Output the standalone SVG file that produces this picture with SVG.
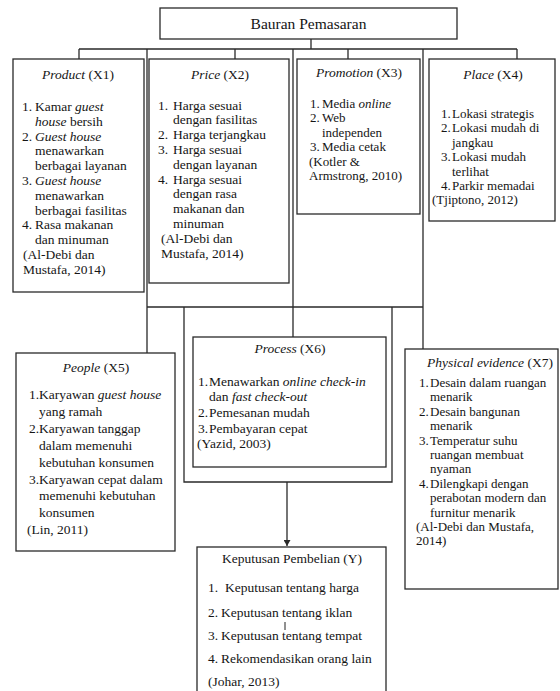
<svg xmlns="http://www.w3.org/2000/svg" width="560" height="691" viewBox="0 0 560 691">
<defs>
<style>
.box{fill:#fff;stroke:#2a2a2a;stroke-width:1.3}
.ln{fill:none;stroke:#2a2a2a;stroke-width:1.3}
text{font-family:"Liberation Serif","Times New Roman",serif;font-size:13.5px;fill:#151515}
.s{font-size:13px}
.t{text-anchor:middle}
.i{font-style:italic}
</style>
<marker id="arr" markerWidth="6" markerHeight="7" refX="6" refY="3.5" orient="auto" markerUnits="userSpaceOnUse">
<path d="M0,0 L6,3.5 L0,7 Z" fill="#2a2a2a"/>
</marker>
</defs>
<rect width="560" height="691" fill="#fff"/>

<g id="connectors">
<path class="ln" d="M311 39 V49 M79 49 H517 M79 49 V59 M235 49 V59 M348 49 V59 M517 49 V59"/>
<path class="ln" d="M147 49 V353 M293 49 V337 M423 49 V349 M147 307 H423"/>
<path class="ln" d="M184 307 V482 H392 V307"/>
<path class="ln" d="M287 482 V546" marker-end="url(#arr)"/>
</g>

<g id="bauran">
<rect class="box" x="160" y="8" width="297" height="31"/>
<text class="t" x="308.5" y="29" style="font-size:15.5px">Bauran Pemasaran</text>
</g>

<g id="product">
<rect class="box" x="13" y="59" width="131" height="233"/>
<text class="t" x="78" y="79"><tspan class="i">Product</tspan> (X1)</text>
<text y="111"><tspan x="22">1.</tspan><tspan x="35">Kamar </tspan><tspan class="i">guest</tspan></text>
<text x="35" y="125.8"><tspan class="i">house</tspan> bersih</text>
<text y="140.6"><tspan x="22">2.</tspan><tspan x="35" class="i">Guest house</tspan></text>
<text x="35" y="155.4">menawarkan</text>
<text x="35" y="170.2">berbagai layanan</text>
<text y="185"><tspan x="22">3.</tspan><tspan x="35" class="i">Guest house</tspan></text>
<text x="35" y="199.8">menawarkan</text>
<text x="35" y="214.6">berbagai fasilitas</text>
<text y="229.4"><tspan x="22">4.</tspan><tspan x="35">Rasa makanan</tspan></text>
<text x="35" y="244.2">dan minuman</text>
<text x="23" y="259">(Al-Debi dan</text>
<text x="23" y="273.8">Mustafa, 2014)</text>
</g>

<g id="price">
<rect class="box" x="149" y="59" width="140" height="224"/>
<text class="t" x="220" y="79"><tspan class="i">Price</tspan> (X2)</text>
<text y="109.5"><tspan x="158">1.</tspan><tspan x="173">Harga sesuai</tspan></text>
<text x="173" y="124.3">dengan fasilitas</text>
<text y="139.1"><tspan x="158">2.</tspan><tspan x="173">Harga terjangkau</tspan></text>
<text y="153.9"><tspan x="158">3.</tspan><tspan x="173">Harga sesuai</tspan></text>
<text x="173" y="168.7">dengan layanan</text>
<text y="183.5"><tspan x="158">4.</tspan><tspan x="173">Harga sesuai</tspan></text>
<text x="173" y="198.3">dengan rasa</text>
<text x="173" y="213.1">makanan dan</text>
<text x="173" y="227.9">minuman</text>
<text x="161" y="242.7">(Al-Debi dan</text>
<text x="161" y="257.5">Mustafa, 2014)</text>
</g>

<g id="promotion">
<rect class="box" x="297" y="59" width="123" height="155"/>
<text class="t" x="359" y="77"><tspan class="i">Promotion</tspan> (X3)</text>
<text class="s" y="108"><tspan x="310">1.</tspan><tspan x="322">Media </tspan><tspan class="i">online</tspan></text>
<text class="s" y="122.4"><tspan x="310">2.</tspan><tspan x="322">Web</tspan></text>
<text class="s" x="322" y="136.8">independen</text>
<text class="s" y="151.2"><tspan x="310">3.</tspan><tspan x="322">Media cetak</tspan></text>
<text class="s" x="309" y="165.6">(Kotler &amp;</text>
<text class="s" x="309" y="180">Armstrong, 2010)</text>
</g>

<g id="place">
<rect class="box" x="429" y="59" width="126" height="162"/>
<text class="t" x="493" y="79"><tspan class="i">Place</tspan> (X4)</text>
<text class="s" y="118"><tspan x="441">1.</tspan><tspan x="452">Lokasi strategis</tspan></text>
<text class="s" y="132.4"><tspan x="441">2.</tspan><tspan x="452">Lokasi mudah di</tspan></text>
<text class="s" x="452" y="146.8">jangkau</text>
<text class="s" y="161.2"><tspan x="441">3.</tspan><tspan x="452">Lokasi mudah</tspan></text>
<text class="s" x="452" y="175.6">terlihat</text>
<text class="s" y="190"><tspan x="441">4.</tspan><tspan x="452">Parkir memadai</tspan></text>
<text class="s" x="432" y="204.4">(Tjiptono, 2012)</text>
</g>

<g id="people">
<rect class="box" x="16" y="353" width="159" height="198"/>
<text class="t" x="96" y="372"><tspan class="i">People</tspan> (X5)</text>
<text y="399"><tspan x="29">1.</tspan><tspan x="39">Karyawan </tspan><tspan class="i">guest house</tspan></text>
<text x="39" y="415.9">yang ramah</text>
<text y="432.8"><tspan x="29">2.</tspan><tspan x="39">Karyawan tanggap</tspan></text>
<text x="39" y="449.7">dalam memenuhi</text>
<text x="39" y="466.6">kebutuhan konsumen</text>
<text y="483.5"><tspan x="29">3.</tspan><tspan x="39">Karyawan cepat dalam</tspan></text>
<text x="39" y="500.4">memenuhi kebutuhan</text>
<text x="39" y="517.3">konsumen</text>
<text x="27" y="534.2">(Lin, 2011)</text>
</g>

<g id="process">
<rect class="box" x="193" y="337" width="193" height="130"/>
<text class="t" x="290" y="353"><tspan class="i">Process</tspan> (X6)</text>
<text y="386"><tspan x="198">1.</tspan><tspan x="209">Menawarkan </tspan><tspan class="i">online check-in</tspan></text>
<text x="209" y="401">dan <tspan class="i">fast check-out</tspan></text>
<text y="417"><tspan x="198">2.</tspan><tspan x="209">Pemesanan mudah</tspan></text>
<text y="432.5"><tspan x="198">3.</tspan><tspan x="209">Pembayaran cepat</tspan></text>
<text x="197" y="447.5">(Yazid, 2003)</text>
</g>

<g id="physical-evidence">
<rect class="box" x="405" y="349" width="153" height="240"/>
<text class="t" x="490" y="367"><tspan class="i">Physical evidence</tspan> (X7)</text>
<text class="s" y="387"><tspan x="419">1.</tspan><tspan x="430">Desain dalam ruangan</tspan></text>
<text class="s" x="430" y="401.4">menarik</text>
<text class="s" y="415.8"><tspan x="419">2.</tspan><tspan x="430">Desain bangunan</tspan></text>
<text class="s" x="430" y="430.2">menarik</text>
<text class="s" y="444.6"><tspan x="419">3.</tspan><tspan x="430">Temperatur suhu</tspan></text>
<text class="s" x="430" y="459">ruangan membuat</text>
<text class="s" x="430" y="473.4">nyaman</text>
<text class="s" y="487.8"><tspan x="419">4.</tspan><tspan x="430">Dilengkapi dengan</tspan></text>
<text class="s" x="430" y="502.2">perabotan modern dan</text>
<text class="s" x="430" y="516.6">furnitur menarik</text>
<text class="s" x="416" y="531">(Al-Debi dan Mustafa,</text>
<text class="s" x="416" y="545.4">2014)</text>
</g>

<g id="keputusan">
<rect class="box" x="197" y="547" width="189" height="150"/>
<text class="t" x="292" y="563">Keputusan Pembelian (Y)</text>
<text y="592"><tspan x="208">1.</tspan><tspan x="225">Keputusan tentang harga</tspan></text>
<text y="616.5"><tspan x="208">2.</tspan><tspan x="221">Keputusan tentang iklan</tspan></text>
<text y="640"><tspan x="208">3.</tspan><tspan x="221">Keputusan tentang tempat</tspan></text>
<text y="663"><tspan x="208">4.</tspan><tspan x="221">Rekomendasikan orang lain</tspan></text>
<text x="208" y="686">(Johar, 2013)</text>
<path d="M285 622 V630" stroke="#222" stroke-width="1"/>
</g>
</svg>
